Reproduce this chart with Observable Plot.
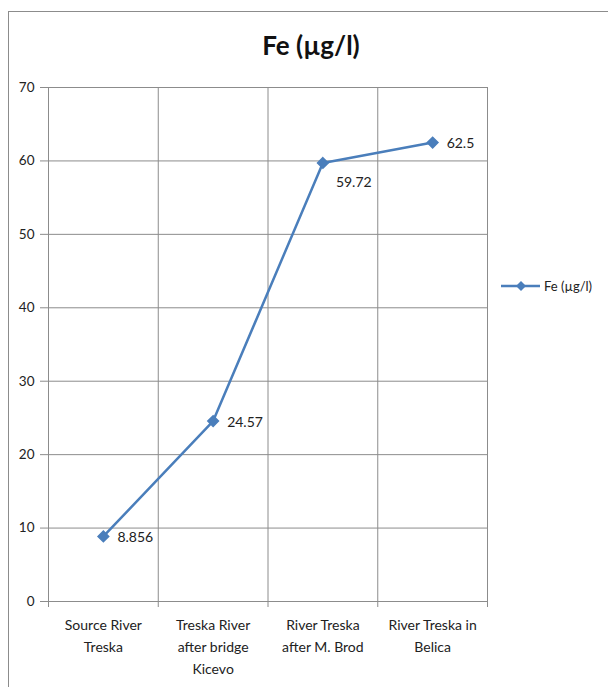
<!DOCTYPE html>
<html><head><meta charset="utf-8">
<script src="https://cdn.jsdelivr.net/npm/d3@7"></script>
<script src="https://cdn.jsdelivr.net/npm/@observablehq/plot@0.6"></script>
<style>
body{margin:0;background:#fff;}
#wrap{position:relative;width:608px;height:687px;overflow:hidden;font-family:Lato,"Open Sans",sans-serif;background:#fff}
#frame{position:absolute;left:8px;top:11px;width:800px;height:800px;border-left:1.5px solid #8c8c8c;border-top:1.5px solid #8c8c8c}
#title{position:absolute;left:6px;width:610px;top:28px;text-align:center;font-weight:bold;font-size:26px;color:#111;line-height:34px}
#chart{position:absolute;left:0;top:0}
#legend{position:absolute;left:498px;top:276px;font-size:13px;color:#222;display:flex;align-items:center}
</style></head>
<body>
<div id="wrap">
  <div id="frame"></div>
  <div id="chart"></div>
  <div id="title">Fe (µg/l)</div>
  <div id="legend"></div>
</div>
<script>
const seriesName = "Fe (µg/l)";
const categories = ["Source River\nTreska", "Treska River\nafter bridge\nKicevo", "River Treska\nafter M. Brod", "River Treska in\nBelica"];
const values = [8.856, 24.57, 59.72, 62.5];
const valueLabels = ["8.856", "24.57", "59.72", "62.5"];
const yTicks = [0, 10, 20, 30, 40, 50, 60, 70];

const blue = "#4A7EBB";
const grid = "#8c8c8c";
const data = categories.map((c, i) => ({pos: i + 0.5, cat: c, v: values[i], label: valueLabels[i], below: i === 2}));
const bounds = d3.range(categories.length + 1);

const chart = Plot.plot({
  width: 608, height: 687,
  marginLeft: 48, marginRight: 121, marginTop: 87, marginBottom: 86,
  x: {domain: [0, categories.length], axis: null},
  y: {domain: [0, 70], axis: null},
  style: {fontFamily: "Lato, 'Open Sans', sans-serif", fontSize: "13px", background: "transparent", color: "#222"},
  marks: [
    Plot.gridY(yTicks, {stroke: grid, strokeOpacity: 1, strokeWidth: 1}),
    Plot.gridX(bounds, {stroke: grid, strokeOpacity: 1, strokeWidth: 1}),
    Plot.axisY(yTicks, {tickSize: 8, tickPadding: 6, stroke: grid, fill: "#222", fontSize: 13.5, label: null}),
    Plot.axisX(bounds, {tickSize: 6, tickFormat: () => "", stroke: grid, label: null}),
    Plot.ruleX([0], {stroke: grid}),
    Plot.ruleY([0], {stroke: grid}),
    Plot.text(data, {x: "pos", text: "cat", frameAnchor: "bottom", lineAnchor: "top", dy: 13, lineHeight: 1.57, fill: "#222", fontSize: 14}),
    Plot.line(data, {x: "pos", y: "v", stroke: blue, strokeWidth: 2.5}),
    Plot.dot(data, {x: "pos", y: "v", symbol: "diamond2", r: 4.8, fill: blue, stroke: blue}),
    Plot.text(data.filter(d => !d.below), {x: "pos", y: "v", text: "label", textAnchor: "start", dx: 14, dy: 1, fill: "#222", fontSize: 14}),
    Plot.text(data.filter(d => d.below), {x: "pos", y: "v", text: "label", textAnchor: "start", dx: 13, dy: 20, fill: "#222", fontSize: 14})
  ]
});
document.getElementById("chart").appendChild(chart);

const leg = document.getElementById("legend");
leg.innerHTML = `<svg width="44" height="20"><line x1="3" x2="42" y1="10" y2="10" stroke="${blue}" stroke-width="2.5"/><path d="M23,5 L28,10 L23,15 L18,10 Z" fill="${blue}"/></svg><span style="margin-left:2px">${seriesName}</span>`;
</script>
</body></html>
